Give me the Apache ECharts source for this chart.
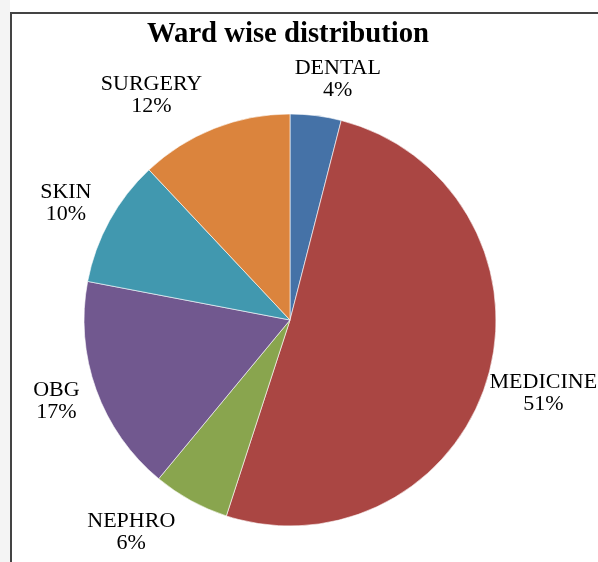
<!DOCTYPE html>
<html>
<head>
<meta charset="utf-8">
<script src="https://cdn.jsdelivr.net/npm/echarts@6/dist/echarts.min.js"></script>
<style>
  html, body { margin: 0; padding: 0; background: #fff; }
  #wrap { position: relative; width: 598px; height: 562px; overflow: hidden; }
  #strip { position: absolute; left: 0; top: 0; width: 10px; height: 562px; background: #f4f4f4; }
  #frame { position: absolute; left: 10px; top: 12px; width: 700px; height: 700px; border-left: 2px solid #444; border-top: 2px solid #444; }
  #chart { position: absolute; left: 0; top: 0; width: 598px; height: 562px; }
</style>
</head>
<body>
<div id="wrap">
  <div id="strip"></div>
  <div id="frame"></div>
  <div id="chart"></div>
</div>
<script>
const categories = ['DENTAL', 'MEDICINE', 'NEPHRO', 'OBG', 'SKIN', 'SURGERY'];
const shares = [4, 51, 6, 17, 10, 12];
const colors = ['#4572A7', '#AA4643', '#89A54E', '#71588F', '#4198AF', '#DB843D'];

const cx = 290, cy = 320, r = 206, gap = 12;
const labelFont = '22px "Liberation Serif"', labelLineH = 22;
// Excel's best-fit moves some labels off the plain mid-angle spot
const labelTurn = { DENTAL: 4, NEPHRO: 8, OBG: 0.7, SKIN: -1.2, SURGERY: -10 };   // degrees
const labelPush = { DENTAL: -2, MEDICINE: -12, NEPHRO: 3, SKIN: 2, SURGERY: 1 }; // px
const total = shares.reduce((a, b) => a + b, 0);

// mid angle of each slice, clockwise from 12 o'clock
const midAngles = [];
let acc = 0;
shares.forEach(v => {
  midAngles.push((acc + v / 2) / total * Math.PI * 2);
  acc += v;
});

const ctx = document.createElement('canvas').getContext('2d');
ctx.font = labelFont;
const labelText = i => categories[i] + '\n' + shares[i] + '%';
const labelWidth = i => Math.max(...labelText(i).split('\n').map(s => ctx.measureText(s).width));

const chart = echarts.init(document.getElementById('chart'));
chart.setOption({
  animation: false,
  title: {
    text: 'Ward wise distribution',
    left: 283,
    top: 15,
    textAlign: 'center',
    textStyle: { fontFamily: 'Liberation Serif', fontWeight: 'bold', fontSize: 28.7, color: '#000' }
  },
  series: [{
    type: 'pie',
    center: [cx, cy],
    radius: r,
    startAngle: 90,
    clockwise: true,
    data: categories.map((name, i) => ({ name, value: shares[i], itemStyle: { color: colors[i] } })),
    itemStyle: { borderColor: '#fff', borderWidth: 0.6 },
    label: {
      show: true,
      position: 'outside',
      formatter: p => labelText(p.dataIndex),
      fontFamily: 'Liberation Serif',
      fontSize: 22,
      lineHeight: labelLineH,
      color: '#000',
      align: 'center',
      overflow: 'none'
    },
    labelLine: { show: false },
    labelLayout: function (params) {
      const i = params.dataIndex, name = categories[i];
      const a = midAngles[i] + (labelTurn[name] || 0) * Math.PI / 180;
      const dx = Math.sin(a), dy = -Math.cos(a);
      const w = labelWidth(i), h = labelLineH * 2;
      const ext = Math.abs(dx) * w / 2 + Math.abs(dy) * h / 2;
      const d = r + gap + ext + (labelPush[name] || 0);
      return { x: cx + dx * d, y: cy + dy * d, align: 'center', verticalAlign: 'middle' };
    }
  }]
});
</script>
</body>
</html>
